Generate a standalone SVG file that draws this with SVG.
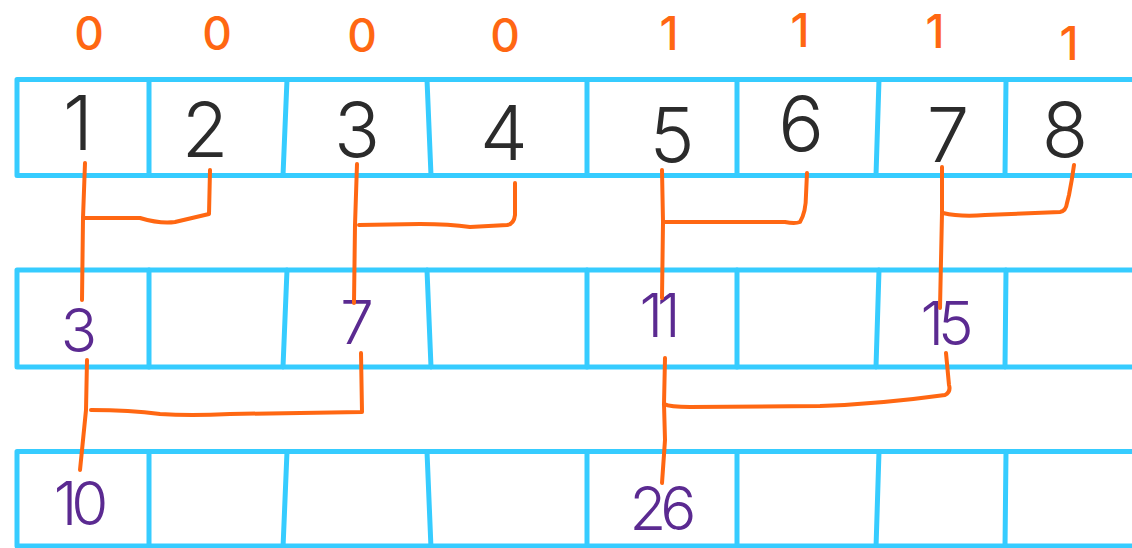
<svg xmlns="http://www.w3.org/2000/svg" width="1132" height="548" viewBox="0 0 1132 548">
  <style>
    .frame { fill: none; stroke: #36CCFF; stroke-width: 5; stroke-linecap: round; stroke-linejoin: round; }
    .wire { fill: none; stroke: #FF6712; stroke-width: 4; stroke-linecap: round; stroke-linejoin: round; }
    .bit { font-family: Inter, "Liberation Sans", sans-serif; font-weight: 500; font-size: 46px; fill: #FF6712; text-anchor: middle; }
    .leaf { font-family: Inter, "Liberation Sans", sans-serif; font-weight: 300; font-size: 76px; fill: #2B2B2B; text-anchor: middle; }
    .sum { font-family: Inter, "Liberation Sans", sans-serif; font-weight: 300; font-size: 60px; fill: #5B2A91; text-anchor: middle; letter-spacing: -6px; }
  </style>
  <rect width="1132" height="548" fill="#FFFFFF"/>

  <!-- bit labels above the leaf row -->
  <g id="bits">
    <text class="bit" x="89" y="50">0</text>
    <text class="bit" x="217" y="50">0</text>
    <text class="bit" x="362" y="52">0</text>
    <text class="bit" x="505" y="52">0</text>
    <text class="bit" x="669" y="50">1</text>
    <text class="bit" x="800" y="47">1</text>
    <text class="bit" x="935" y="48">1</text>
    <text class="bit" x="1069" y="60">1</text>
  </g>

  <!-- array frames: open on the right, same cell dividers on every row -->
  <g id="row1">
    <path class="frame" d="M1140,79.5 L17,79.5 L17,175.5 L1140,175.5"/>
    <path class="frame" d="M149,79.5 L149,175.5 M287,79.5 L283,175.5 M427,79.5 L431,175.5 M587,79.5 L587,175.5 M737,79.5 L737,175.5 M879,79.5 L876,175.5 M1006,79.5 L1005,175.5"/>
  </g>
  <g id="row2">
    <path class="frame" d="M1140,270 L17,270 L17,367 L1140,367"/>
    <path class="frame" d="M149,270 L149,367 M287,270 L283,367 M427,270 L431,367 M587,270 L587,367 M737,270 L737,367 M879,270 L876,367 M1006,270 L1005,367"/>
  </g>
  <g id="row3">
    <path class="frame" d="M1140,451.5 L17,451.5 L17,546 L1140,546"/>
    <path class="frame" d="M149,451.5 L149,548 M287,451.5 L283,548 M427,451.5 L431,548 M587,451.5 L587,548 M737,451.5 L737,548 M879,451.5 L876,548 M1006,451.5 L1005,548"/>
  </g>

  <!-- leaf values -->
  <g id="leaf1"><text class="leaf" x="78" y="150">1</text></g>
  <g id="leaf2"><text class="leaf" x="205" y="157">2</text></g>
  <g id="leaf3"><text class="leaf" x="357" y="157">3</text></g>
  <g id="leaf4"><text class="leaf" x="504" y="160">4</text></g>
  <g id="leaf5"><text class="leaf" x="672" y="162">5</text></g>
  <g id="leaf6"><text class="leaf" x="801" y="151">6</text></g>
  <g id="leaf7"><text class="leaf" x="948" y="162">7</text></g>
  <g id="leaf8"><text class="leaf" x="1065" y="157">8</text></g>

  <!-- pair sums (x offset compensates the negative letter-spacing) -->
  <g id="sum12"><text class="sum" x="76" y="352">3</text></g>
  <g id="sum34"><text class="sum" x="354" y="344">7</text></g>
  <g id="sum56"><text class="sum" x="657" y="337">11</text></g>
  <g id="sum78"><text class="sum" x="944" y="345">15</text></g>

  <!-- quad sums -->
  <g id="sum1234"><text class="sum" x="78" y="525">10</text></g>
  <g id="sum5678"><text class="sum" x="660" y="530">26</text></g>

  <!-- merge brackets -->
  <g id="connectors">
    <path class="wire" d="M85,163 L83,218 L82,300"/>
    <path class="wire" d="M83,218 L140,218 Q160,224 175,222 L209,214 L210,170"/>

    <path class="wire" d="M357,164 L355,225 L354,303"/>
    <path class="wire" d="M359,225 L420,224 Q450,224 470,227 L507,225 Q514,224 515,215 L515,183"/>

    <path class="wire" d="M662,170 L663,222 L662,298"/>
    <path class="wire" d="M663,222 L785,222 Q795,224 800,222 Q806,212 806,195 L807,173"/>

    <path class="wire" d="M942,167 L942,213 L940,308"/>
    <path class="wire" d="M943,213 Q960,217 985,215 L1060,212 Q1066,211 1067,203 L1069,195 Q1072,180 1074,165"/>

    <path class="wire" d="M87,360 L86,410 L80,470"/>
    <path class="wire" d="M91,410 Q130,410 160,414 Q190,416 230,414 L362,412 L361,353"/>

    <path class="wire" d="M665,358 L664,404 L665,440 L662,483"/>
    <path class="wire" d="M664,404 Q670,407 690,407 L820,406 Q880,404 945,395 Q951,392 949,385 L946,353"/>
  </g>
</svg>
